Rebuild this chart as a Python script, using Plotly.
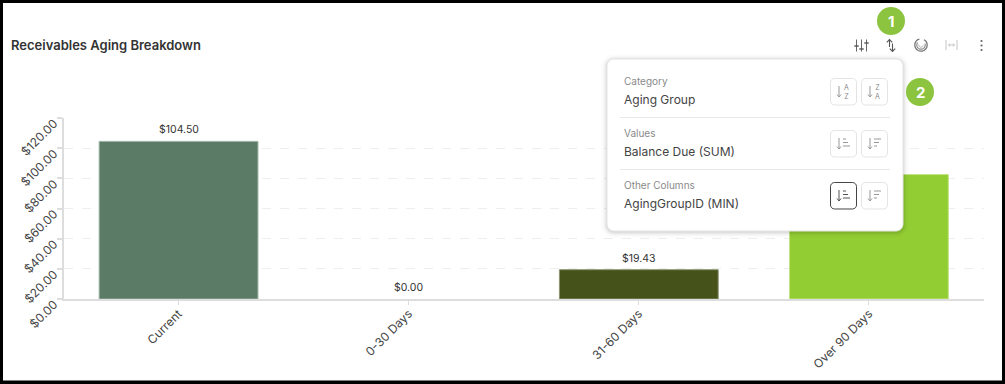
import math
import plotly.graph_objects as go

categories = ["Current", "0-30 Days", "31-60 Days", "Over 90 Days"]
balance_due = [104.50, 0.00, 19.43, 82.50]
value_labels = ["$104.50", "$0.00", "$19.43", ""]
bar_colors = ["#5B7B66", "rgba(0,0,0,0)", "#45531A", "#92CE33"]
bar_edges = ["#9DB2A5", "rgba(0,0,0,0)", "#8B9570", "#C0E385"]
y_ticks = [0, 20, 40, 60, 80, 100, 120]
y_tick_labels = ["$0.00", "$20.00", "$40.00", "$60.00", "$80.00", "$100.00", "$120.00"]
title_text = "Receivables Aging Breakdown"
menu_rows = [("Category", "Aging Group"), ("Values", "Balance Due (SUM)"), ("Other Columns", "AgingGroupID (MIN)")]

W, H = 1005, 384
FONT = "Inter"


def fx(x):
    return x / W


def fy(y):
    return 1 - y / H


shapes = []
annotations = []


def path(d, color="#666", width=1.2, fill=None, layer="above"):
    s = dict(type="path", xref="paper", yref="paper", path=d, layer=layer,
             line=dict(color=color, width=width))
    if fill:
        s["fillcolor"] = fill
    shapes.append(s)


def P(*pts):
    return "M" + " L".join(f"{fx(a):.5f},{fy(b):.5f}" for a, b in pts)


def line(x0, y0, x1, y1, color="#666", width=1.2):
    shapes.append(dict(type="line", xref="paper", yref="paper", x0=fx(x0), x1=fx(x1), y0=fy(y0), y1=fy(y1),
                       layer="above", line=dict(color=color, width=width)))


def rect(x0, y0, x1, y1, fill):
    shapes.append(dict(type="rect", xref="paper", yref="paper", x0=fx(x0), x1=fx(x1), y0=fy(y0), y1=fy(y1),
                       layer="above", fillcolor=fill, line=dict(width=0)))


def rrect(x0, y0, x1, y1, r, fill, color=None, width=1):
    k = 0.45 * r
    pts = [
        f"M{fx(x0 + r):.5f},{fy(y0):.5f}", f"L{fx(x1 - r):.5f},{fy(y0):.5f}",
        f"C{fx(x1 - k):.5f},{fy(y0):.5f} {fx(x1):.5f},{fy(y0 + k):.5f} {fx(x1):.5f},{fy(y0 + r):.5f}",
        f"L{fx(x1):.5f},{fy(y1 - r):.5f}",
        f"C{fx(x1):.5f},{fy(y1 - k):.5f} {fx(x1 - k):.5f},{fy(y1):.5f} {fx(x1 - r):.5f},{fy(y1):.5f}",
        f"L{fx(x0 + r):.5f},{fy(y1):.5f}",
        f"C{fx(x0 + k):.5f},{fy(y1):.5f} {fx(x0):.5f},{fy(y1 - k):.5f} {fx(x0):.5f},{fy(y1 - r):.5f}",
        f"L{fx(x0):.5f},{fy(y0 + r):.5f}",
        f"C{fx(x0):.5f},{fy(y0 + k):.5f} {fx(x0 + k):.5f},{fy(y0):.5f} {fx(x0 + r):.5f},{fy(y0):.5f}", "Z",
    ]
    shapes.append(dict(type="path", xref="paper", yref="paper", path=" ".join(pts), layer="above",
                       fillcolor=fill, line=dict(color=color or "rgba(0,0,0,0)", width=width if color else 0)))


def circle(cx, cy, r, fill=None, color=None, width=1):
    shapes.append(dict(type="circle", xref="paper", yref="paper", x0=fx(cx - r), x1=fx(cx + r),
                       y0=fy(cy - r), y1=fy(cy + r), layer="above", fillcolor=fill or "rgba(0,0,0,0)",
                       line=dict(color=color or "rgba(0,0,0,0)", width=width if color else 0)))


def arc(cx, cy, r, a0, a1, color, width):
    n = 16
    pts = [(cx + r * math.cos(math.radians(a0 + (a1 - a0) * i / n)),
            cy + r * math.sin(math.radians(a0 + (a1 - a0) * i / n))) for i in range(n + 1)]
    path(P(*pts), color, width)


def text(x, y, s, size=12, color="#444", anchor="left", weight=None):
    f = dict(family=FONT, size=size, color=color)
    if weight:
        f["weight"] = weight
    annotations.append(dict(xref="paper", yref="paper", x=fx(x), y=fy(y), text=s, showarrow=False,
                            xanchor=anchor, yanchor="middle", font=f))


# title
text(8.5, 45, title_text, size=13, color="#333", weight=600)

# toolbar icons
for x, knob in ((856.5, 45), (861.5, 48), (866.5, 45)):
    line(x, 39.5, x, 51.5, "#666", 1)
for x, knob in ((856.5, 46), (861.5, 49), (866.5, 43)):
    line(x - 2.2, knob, x + 2.2, knob, "#555", 1.4)
line(889.5, 39.5, 889.5, 47, "#555", 1.1)
path(P((886.8, 42.3), (889.5, 39.5), (892.2, 42.3)), "#555", 1.1)
line(892.5, 43.5, 892.5, 51.5, "#555", 1.1)
path(P((889.8, 48.7), (892.5, 51.5), (895.2, 48.7)), "#555", 1.1)
arc(921, 45, 6.2, -60, 255, "#777", 1.3)
arc(921, 45, 4.2, -20, 215, "#888", 1.1)
arc(921, 45, 2.2, 10, 190, "#aaa", 1)
line(946, 40, 946, 50, "#c4c4c4", 1)
line(957, 40, 957, 50, "#c4c4c4", 1)
line(948.5, 45, 954.5, 45, "#c4c4c4", 1)
path(P((950, 43.5), (948.5, 45), (950, 46.5)), "#c4c4c4", 1)
path(P((953, 43.5), (954.5, 45), (953, 46.5)), "#c4c4c4", 1)
for y in (41, 45.5, 50):
    circle(981.5, y, 1.1, "#666")

# popup shadow and body
for i, a in ((6, 0.012), (4, 0.018), (3, 0.025), (2, 0.03), (1, 0.04)):
    rrect(607 - i, 59 - i + 1, 903 + i, 231 + i + 1, 7 + i, f"rgba(0,0,0,{a})")
rrect(607, 59, 903, 231, 7, "#FFFFFF", "#E4E4E4", 1)
line(620, 117.5, 890, 117.5, "#E8E8E8", 1)
line(620, 169.5, 890, 169.5, "#E8E8E8", 1)

for i, (label, value) in enumerate(menu_rows):
    top = 78 + 52 * i
    text(621.5, top + 3.2, label, size=10, color="#8A8A8A")
    text(621.5, top + 21.7, value, size=12, color="#444")
    active = i == 2
    rrect(830.5, top + 0.5, 856.5, top + 27, 4, "#FFFFFF", "#444" if active else "#E4E4E4", 1)
    rrect(861.5, top + 0.5, 887.5, top + 27, 4, "#FFFFFF", "#E4E4E4", 1)
    for bx, mirrored in ((839, False), (870, True)):
        c = "#555" if (active and not mirrored) else "#999"
        line(bx, top + 8, bx, top + 19, c, 1)
        path(P((bx - 2, top + 16.5), (bx, top + 19), (bx + 2, top + 16.5)), c, 1)
        if i == 0:
            text(bx + 7, top + 13.5, "Z<br>A" if mirrored else "A<br>Z", size=7, color="#888", anchor="center")
        else:
            widths = (7, 5, 3) if mirrored else (3, 5, 7)
            for j, wd in enumerate(widths):
                ly = top + 9 + j * 3.5
                line(bx + 4, ly, bx + 4 + wd, ly, c, 1)

# badges
circle(891, 21, 14, "#8CC440")
text(891, 21, "1", size=15, color="#FFFFFF", anchor="center", weight=700)
circle(920, 92, 14, "#8CC440")
text(920, 92, "2", size=15, color="#FFFFFF", anchor="center", weight=700)

# black frame
rect(0, 0, W, 3, "#000000")
rect(0, 380.5, W, H, "#000000")
rect(0, 0, 3, H, "#000000")
rect(1002, 0, W, H, "#000000")

# value labels, placed on the data scale
for cat, val, lab in zip(categories, balance_due, value_labels):
    if lab:
        annotations.append(dict(xref="x", yref="y", x=cat, y=val, text=lab, showarrow=False,
                                yanchor="bottom", yshift=3,
                                font=dict(family=FONT, size=10.5, color="#333")))

fig = go.Figure(go.Bar(
    x=categories, y=balance_due, cliponaxis=False,
    marker=dict(color=bar_colors, line=dict(color=bar_edges, width=1)),
    width=0.69, hoverinfo="skip",
))
fig.update_layout(
    width=W, height=H, margin=dict(l=0, r=0, t=0, b=0, autoexpand=False),
    paper_bgcolor="#FFFFFF", plot_bgcolor="#FFFFFF", showlegend=False,
    shapes=shapes, annotations=annotations,
    font=dict(family=FONT, color="#444"),
)
fig.update_xaxes(
    domain=[fx(63.5), fx(984)], type="category", range=[-0.5, 3.5], automargin=False,
    showline=True, linecolor="#DDDDDD", linewidth=2, showgrid=False, zeroline=False,
    ticks="outside", ticklen=4, tickwidth=1, tickcolor="#DDDDDD", tickangle=-45,
    ticklabelstandoff=-3,
    tickfont=dict(family=FONT, size=12, color="#444"),
)
fig.update_yaxes(
    domain=[fy(299), fy(118)], range=[0, 120], automargin=False,
    tickvals=y_ticks, ticktext=y_tick_labels,
    showline=True, linecolor="#DDDDDD", linewidth=2, zeroline=False,
    showgrid=True, gridcolor="#EEEEEE", griddash="dash", gridwidth=1,
    ticks="outside", ticklen=5, tickwidth=2, tickcolor="#DDDDDD", tickangle=-45,
    ticklabelshift=4,
    tickfont=dict(family=FONT, size=12, color="#444"),
)
fig.write_html("out.html", config=dict(displayModeBar=False),
               post_script="document.body.style.margin='0';document.body.style.overflow='hidden';")
